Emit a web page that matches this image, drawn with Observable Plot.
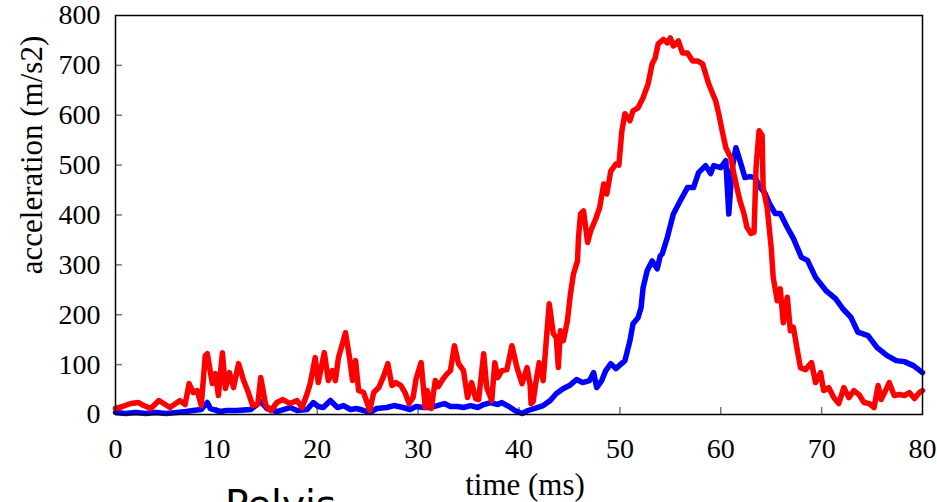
<!DOCTYPE html>
<html>
<head>
<meta charset="utf-8">
<script src="https://cdn.jsdelivr.net/npm/d3@7"></script>
<script src="https://cdn.jsdelivr.net/npm/@observablehq/plot@0.6"></script>
<style>
  html, body { margin: 0; padding: 0; background: white; overflow: hidden; }
  #wrap { position: relative; width: 937px; height: 502px; }
  #wrap svg text { font-family: "Liberation Serif", "Times New Roman", serif; }
  #caption { position: absolute; left: 225px; top: 485px; font-family: "DejaVu Sans", sans-serif; font-size: 39px; line-height: 40px; color: black; white-space: nowrap; }
</style>
</head>
<body>
<div id="wrap"></div>
<script>
// ---- data ----
const xLabel = "time (ms)";
const yLabel = "acceleration (m/s2)";
const captionText = "Pelvis";
const xTicks = [0, 10, 20, 30, 40, 50, 60, 70, 80];
const yTicks = [0, 100, 200, 300, 400, 500, 600, 700, 800];

const redT = [0,0.7,1.5,2.3,2.8,3.5,4.3,5.4,6.4,6.9,7.3,7.7,8.1,8.5,8.9,9.1,9.6,9.9,10.2,10.6,10.9,11.3,11.7,12.2,12.7,13.1,13.6,14.1,14.4,14.9,15.4,16.0,16.6,17.3,18.0,18.5,19.0,19.3,19.8,20.1,20.7,21.1,21.5,21.8,22.1,22.8,23.2,23.5,23.8,24.1,24.6,25.2,25.6,26.1,26.6,27.0,27.4,27.8,28.3,28.7,29.1,29.5,29.8,30.3,30.7,30.9,31.3,31.7,32.0,32.5,32.9,33.2,33.6,34.0,34.5,34.9,35.3,35.7,36.0,36.5,36.8,37.3,37.6,37.9,38.3,38.8,39.3,39.8,40.3,40.8,41.1,41.2,41.4,41.7,42.0,42.4,42.7,43.0,43.4,43.7,43.9,44.1,44.4,44.8,45.1,45.4,45.8,45.9,46.1,46.4,46.8,47.1,47.6,48.0,48.4,48.7,49.1,49.6,49.9,50.2,50.5,51.0,51.3,51.8,52.3,52.8,53.2,53.5,53.8,54.3,54.7,55.0,55.3,55.8,56.2,56.7,57.2,57.7,58.2,58.5,58.8,59.2,59.5,59.8,60.2,60.5,61.0,61.3,61.6,61.9,62.3,62.6,63.0,63.3,63.5,63.8,64.1,64.2,64.6,65.0,65.2,65.6,65.9,66.2,66.6,66.9,67.2,67.6,67.9,68.4,69.0,69.4,69.9,70.2,70.7,71.2,71.7,72.2,72.7,73.2,73.7,74.2,74.7,75.2,75.6,75.9,76.2,76.7,77.2,77.7,78.2,78.7,79.2,79.7,80.0];
const redV = [12,16,22,24,18,12,28,14,28,20,62,44,48,18,118,122,62,82,38,124,52,84,54,102,68,48,18,20,74,18,8,24,30,22,28,14,42,62,114,64,124,68,88,68,114,164,114,68,108,48,44,8,44,54,78,102,58,64,58,44,22,34,72,104,14,48,12,68,56,72,82,88,138,102,88,34,64,32,30,122,54,28,104,74,88,90,138,94,62,94,60,22,26,68,104,68,148,222,162,154,94,168,148,188,242,282,308,355,402,408,345,368,392,415,462,442,488,502,500,569,603,589,609,615,635,663,703,715,743,752,745,755,739,749,725,725,709,709,703,683,663,643,629,603,563,535,515,483,455,429,403,375,363,365,495,569,560,455,415,335,275,228,252,184,235,168,175,128,94,90,104,64,84,48,54,34,22,54,34,48,40,24,22,14,58,30,42,64,38,40,38,44,32,44,48];

const blueT = [0,1,2,3,4,5,6.1,7.0,7.7,8.5,9.1,9.4,10.4,11,12,13.4,14.4,15,16,17.3,18,19,19.6,20.1,20.6,21.3,22,22.6,23.3,23.9,24.6,25.2,25.9,26.9,27.6,28.5,29.2,29.8,30.5,31.2,31.9,32.6,33.2,33.9,34.5,35.2,35.9,36.5,37.2,37.9,38.3,39.0,39.6,40.3,40.9,41.8,42.4,43.1,43.7,44.4,45.0,45.7,46.3,47.0,47.4,47.7,48.2,48.6,49.1,49.6,50.5,51.0,51.3,51.8,52.1,52.3,52.7,53.2,53.7,54.0,54.2,54.7,55.3,56.0,56.7,57.3,57.8,58.5,59.0,59.3,60.0,60.5,60.8,61.1,61.5,61.9,62.4,62.9,63.4,63.9,64.4,64.9,65.4,65.9,66.6,67.2,68.0,68.6,69.4,70.4,71.4,72.1,72.9,73.6,74.6,75.5,76.5,77.4,78.2,79.1,80.0];
const blueV = [4,2,4,2,4,2,4,6,8,10,24,12,6,8,8,10,26,12,6,14,8,10,24,16,14,28,14,18,10,12,8,4,12,14,18,14,10,16,14,14,18,22,16,16,14,18,14,20,24,20,24,16,8,2,8,14,18,28,42,52,58,70,64,68,84,54,68,88,102,92,108,148,182,194,214,254,288,308,292,318,322,355,402,429,455,455,485,499,483,499,495,509,402,489,535,509,475,477,475,455,443,420,403,403,375,353,315,309,275,249,232,212,195,165,158,134,118,108,106,98,84];

const red = redT.map((t, i) => ({t, v: redV[i]}));
const blue = blueT.map((t, i) => ({t, v: blueV[i]}));
const innerYTicks = yTicks.slice(1, -1);
const innerXTicks = xTicks.slice(1, -1);

const serif = '"Liberation Serif", "Times New Roman", serif';

const chart = Plot.plot({
  width: 937,
  height: 502,
  marginLeft: 115,
  marginRight: 15,
  marginTop: 15,
  marginBottom: 88,
  style: {fontFamily: serif, fontSize: "28px", color: "black", background: "white"},
  x: {domain: [0, 80], label: null},
  y: {domain: [0, 800], label: null},
  marks: [
    Plot.axisX({ticks: xTicks, tickSize: 0, tickPadding: 24, fontSize: 28, fontFamily: serif, fill: "black", label: null}),
    Plot.axisY({ticks: yTicks, tickSize: 0, tickPadding: 15, fontSize: 28, fontFamily: serif, fill: "black", label: null}),
    Plot.tickY(innerYTicks, {y: d => d, insetRight: 800, stroke: "#777", strokeWidth: 1.5}),
    Plot.tickX(innerXTicks, {x: d => d, insetTop: 392, stroke: "#777", strokeWidth: 1.5}),
    Plot.line(blue, {x: "t", y: "v", stroke: "#0000ff", strokeWidth: 5.5, strokeLinejoin: "round", strokeLinecap: "round"}),
    Plot.line(red, {x: "t", y: "v", stroke: "#ff0000", strokeWidth: 5.5, strokeLinejoin: "round", strokeLinecap: "round"}),
    Plot.frame({stroke: "black", strokeWidth: 1.5}),
    Plot.text([yLabel], {text: d => d, frameAnchor: "left", textAnchor: "middle", rotate: -90, dx: -83, dy: -60, fontSize: 31, fontFamily: serif, fill: "black", lineAnchor: "middle"}),
    Plot.text([xLabel], {text: d => d, frameAnchor: "bottom", textAnchor: "middle", dx: 6, dy: 80, fontSize: 31, fontFamily: serif, fill: "black", lineAnchor: "bottom"})
  ]
});

const wrap = document.getElementById("wrap");
wrap.appendChild(chart);
const cap = document.createElement("div");
cap.id = "caption";
cap.textContent = captionText;
wrap.appendChild(cap);
</script>
</body>
</html>
